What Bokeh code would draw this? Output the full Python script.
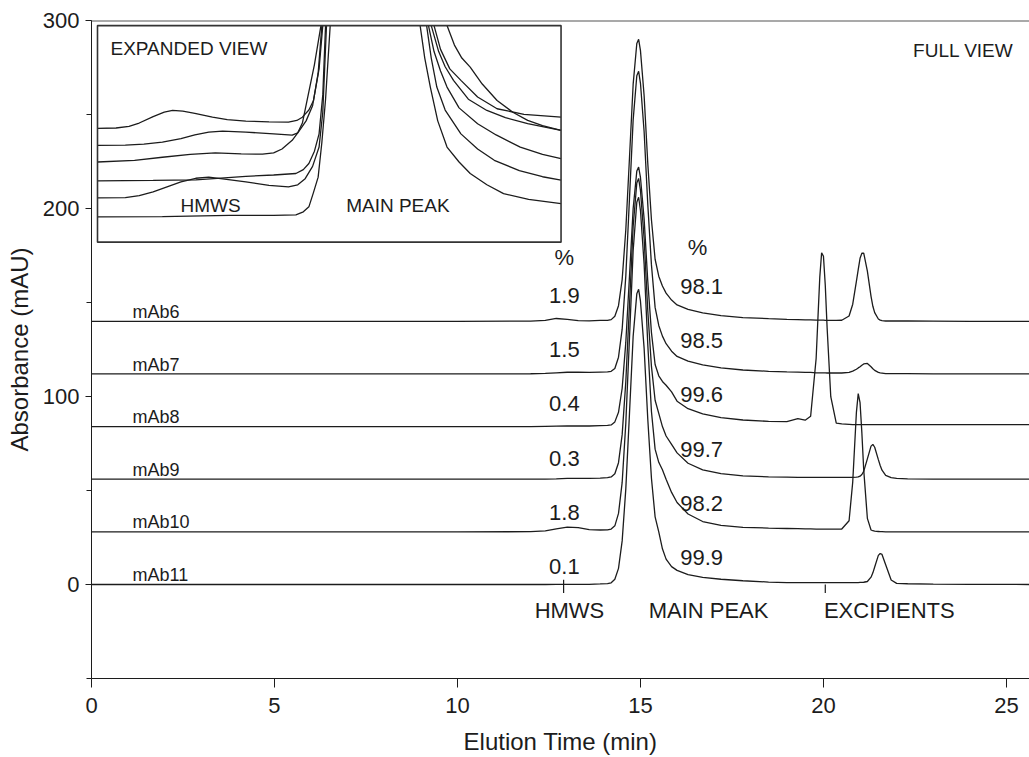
import math
from bokeh.plotting import figure
from bokeh.models import Range1d, SingleIntervalTicker, Span, ColumnDataSource
from bokeh.core.properties import value
from bokeh.embed import file_html
from bokeh.resources import INLINE

NAN = float("nan")

# ---------------- data ----------------
time_min = [0, 5, 10, 12.0, 12.4, 12.7, 13.0, 13.3, 13.6, 13.9, 14.1, 14.2, 14.3, 14.4, 14.5,
            14.6, 14.7, 14.8, 14.9, 14.95, 15.0, 15.1, 15.2, 15.3, 15.4, 15.5, 15.6, 15.7, 15.85,
            16.0, 16.3, 16.7, 17.2, 17.8, 18.5, 19.0, 19.3, 19.5, 19.65, 19.8, 19.85, 19.9, 19.95,
            20.0, 20.05, 20.1, 20.2, 20.35, 20.5, 20.7, 20.8, 20.9, 20.95, 21.0, 21.05, 21.1, 21.2,
            21.3, 21.35, 21.4, 21.5, 21.55, 21.6, 21.7, 21.85, 22.0, 22.3, 23.0, 24.0, 25.7]

sample_names = ["mAb6", "mAb7", "mAb8", "mAb9", "mAb10", "mAb11"]
trace_offset = [140, 112, 84, 56, 28, 0]

signal_mAb6 = [0, 0, 0, 0.1, 0.5, 1.5, 1.0, 0.4, 0.2, 0.5, 0.5, 0.9, 2.7, 8.3, 22.2, 48.8, 87, 126,
               147.8, 150, 144, 120, 84, 54, 33, 24, 18.8, 15, 11.3, 8.7, 6.3, 4.5, 3.0, 2.0, 1.4,
               1.05, 0.9, 0.75, 0.75,
               0.6, 0.6, 0.6, 0.6, 0.6, 0.5, 0.45, 0.45, 0.45, 0.55,
               2.8, 9.1, 21.2, 27.5, 33.5, 36.2, 36.3, 26.7, 13.3, 8.0,
               4.6, 1.2, 0.6, 0.4, 0.15, 0.15, 0.15, 0.15, 0.08, 0, 0]
signal_mAb7 = [0, 0, 0, 0.1, 0.3, 0.6, 0.9, 1.0, 0.8, 1.0, 1.1, 1.4, 2.9, 8.9, 23.8, 52.3, 93.4, 135,
               158.6, 161, 154.6, 128.8, 90.2, 58, 35.4, 25.8, 20.1, 16.1, 12.1, 9.3, 6.8, 4.8, 3.2,
               2.1, 1.4, 1.1, 1.0, 0.8, 0.8,
               0.6, 0.6, 0.6, 0.6, 0.6, 0.55, 0.5, 0.5, 0.5, 0.5,
               0.8, 1.5, 2.5, 3.2, 3.8, 4.6, 5.3, 5.6, 3.8, 2.8,
               1.9, 0.85, 0.6, 0.45, 0.15, 0.15, 0.15, 0.15, 0.08, 0, 0]
signal_mAb8 = [0, 0, 0, 0, 0.1, 0.2, 0.3, 0.3, 0.3, 0.5, 0.6, 0.9, 2.5, 7.6, 20.4, 44.9, 80, 115.9,
               135.9, 138, 132.5, 110.4, 77.3, 50, 33, 27, 24, 22, 18.5, 13.5, 9.5, 6.8, 4.8, 3.5,
               2.8, 2.6, 4.2, 3.4, 5.5,
               36.2, 58, 79.6, 92.5, 90.6, 75, 52.6, 15.9, 1.8, 1.4, 1.2,
               1.0, 1.0, 1.0, 1.0, 1.0, 1.0, 1.0, 1.0, 1.0, 1.0,
               1.0, 1.0, 1.0, 1.0, 1.0, 1.0, 1.0, 1.0, 1.0, 1.0]
signal_mAb9 = [0, 0, 0, 0, 0.1, 0.2, 0.4, 0.4, 0.4, 0.6, 0.8, 1.2, 2.9, 8.8, 23.7, 52, 92.8, 134.4,
               157.6, 160, 153.6, 128, 89.6, 60, 42, 35, 28, 23, 18.5, 14, 8.5, 5, 3, 1.8, 1.3,
               1.1, 1.0, 1.0, 1.0,
               1.0, 1.0, 1.0, 1.0, 1.0, 1.0, 1.0, 1.0, 1.0, 1.0, 1.0, 1.0,
               1.1, 1.2, 1.6, 2.5, 4.2, 10.8, 17.6, 18.5, 17, 10.4, 7.3, 4.8, 2.0, 0.8, 0.4, 0.2,
               0.1, 0, 0]
signal_mAb10 = [0, 0, 0, 0.1, 0.5, 1.6, 2.5, 2.2, 1.2, 1.0, 1.1, 1.5, 3.2, 9.8, 26.3, 57.9, 103.2,
                149.5, 175.3, 178, 170.9, 142.4, 99.7, 64, 44, 37, 33, 28, 21, 15.6, 9.5, 5.5, 3.5,
                2.4, 2.0, 1.8, 1.7, 1.6, 1.6,
                1.5, 1.5, 1.5, 1.5, 1.5, 1.5, 1.5, 1.5, 1.5, 1.5,
                5.9, 26.5, 63.5, 73.5, 68.7, 52.5, 33, 7.2, 1.0, 0.6,
                0.4, 0.2, 0.1, 0.1, 0, 0, 0, 0, 0, 0, 0]
signal_mAb11 = [0, 0, 0, 0, 0, 0.05, 0.1, 0.1, 0.1, 0.3, 0.5, 0.9, 2.8, 8.6, 23.2, 51, 91, 131.9,
                154.6, 157, 150.7, 125.6, 87.9, 56.5, 36, 28, 19, 13.5, 9.5, 7.5, 5.2, 3.8, 2.8,
                2.0, 1.3, 1.0, 1.0, 1.0, 1.0,
                1.0, 1.0, 1.0, 1.0, 1.0, 1.0, 1.0, 1.0, 1.0, 1.0, 1.0, 1.0, 1.0,
                1.0, 1.1, 1.15, 1.2, 1.6, 3.9, 6.2, 9.3, 15.5, 16.5, 16.0, 10.5, 2.4, 0.6, 0.4,
                0.2, 0.1, 0]

hmws_percent = ["1.9", "1.5", "0.4", "0.3", "1.8", "0.1"]
main_percent = ["98.1", "98.5", "99.6", "99.7", "98.2", "99.9"]
region_names = ["HMWS", "MAIN PEAK", "EXCIPIENTS"]
region_center = [13.06, 16.86, 21.8]
region_boundary = [12.9, 20.05]

# expanded view (inset) traces: time (min) and expanded signal units, NaN = off-scale gap
inset_t_mAb6 = [11.9, 12.1, 12.24, 12.35, 12.5, 12.62, 12.71, 12.82, 12.95, 13.14, 13.3, 13.5,
                13.75, 13.96, 14.05, 14.11, 14.18, 14.23, 14.29, 14.33, NAN,
                15.53, 15.6, 15.7, 15.82, 16.0, 16.21, 16.5, 16.9]
inset_y_mAb6 = [5.25, 5.27, 5.35, 5.5, 5.8, 6.0, 6.08, 6.05, 5.95, 5.77, 5.66, 5.59,
                5.55, 5.54, 5.62, 5.77, 6.1, 6.54, 8.0, 10.0, NAN,
                10.0, 8.9, 8.0, 7.47, 6.7, 6.16, 5.9, 5.77]
inset_t_mAb7 = [11.9, 12.2, 12.4, 12.6, 12.8, 12.95, 13.1, 13.25, 13.5, 13.8, 14.0, 14.06, 14.11,
                14.16, 14.24, 14.31, NAN,
                15.5, 15.58, 15.65, 15.74, 15.9, 16.1, 16.3, 16.54, 16.9]
inset_y_mAb7 = [4.47, 4.48, 4.53, 4.62, 4.78, 4.95, 5.08, 5.13, 5.08, 5.0, 4.94, 5.05, 5.5,
                6.54, 8.2, 10.0, NAN,
                10.0, 8.8, 8.1, 7.47, 6.6, 6.08, 5.75, 5.47, 5.16]
inset_t_mAb8 = [11.9, 12.3, 12.6, 12.9, 13.17, 13.45, 13.68, 13.8, 13.89, 14.0, 14.07, 14.15, 14.22,
                14.28, 14.32, NAN,
                15.67, 15.75, 15.83, 15.92, 16.05, 16.21, 16.38, 16.54, 16.7, 16.9]
inset_y_mAb8 = [3.70, 3.78, 3.92, 4.05, 4.12, 4.08, 4.06, 4.12, 4.3, 4.7, 5.1, 5.6, 6.3,
                7.8, 10.0, NAN,
                10.0, 9.1, 8.5, 8.08, 7.3, 6.54, 6.0, 5.62, 5.38, 5.16]
inset_t_mAb9 = [11.9, 12.5, 12.96, 13.5, 13.8, 14.04, 14.12, 14.18, 14.24, 14.29, 14.33, 14.36, NAN,
                15.47, 15.53, 15.6, 15.67, 15.8, 16.0, 16.2, 16.46, 16.7, 16.9]
inset_y_mAb9 = [2.83, 2.85, 2.88, 3.04, 3.1, 3.17, 3.35, 3.63, 4.2, 5.0, 6.8, 10.0, NAN,
                10.0, 8.8, 7.9, 7.16, 6.2, 5.47, 4.95, 4.39, 4.05, 3.86]
inset_t_mAb10 = [11.9, 12.2, 12.35, 12.5, 12.65, 12.8, 12.96, 13.1, 13.25, 13.5, 13.75, 13.96,
                 14.06, 14.14, 14.22, 14.29, 14.33, 14.37, NAN,
                 15.45, 15.5, 15.56, 15.65, 15.82, 16.0, 16.18, 16.45, 16.7, 16.9]
inset_y_mAb10 = [2.04, 2.06, 2.15, 2.32, 2.55, 2.78, 2.95, 3.0, 2.92, 2.78, 2.62, 2.55,
                 2.65, 2.93, 3.5, 4.39, 6.0, 10.0, NAN,
                 10.0, 8.5, 7.16, 6.1, 5.0, 4.3, 3.78, 3.3, 3.02, 2.86]
inset_t_mAb11 = [11.9, 12.6, 13.32, 13.8, 14.04, 14.12, 14.18, 14.23, 14.28, 14.32, 14.36, 14.41, NAN,
                 15.38, 15.43, 15.49, 15.57, 15.67, 15.8, 15.92, 16.1, 16.28, 16.55, 16.9]
inset_y_mAb11 = [1.17, 1.18, 1.24, 1.24, 1.26, 1.4, 1.63, 2.3, 3.0, 4.6, 6.6, 10.0, NAN,
                 10.0, 8.5, 7.16, 5.6, 4.39, 3.7, 3.17, 2.65, 2.24, 1.98, 1.78]

# ---------------- layout / style ----------------
FONT = "Liberation Sans"
INK = "#1c1c1c"
X0, X1 = 0.0, 25.63
Y0, Y1 = -50.0, 300.0
INSET_BOX = (0.164, 12.83, 182.1, 297.3)   # left, right, bottom, top in main data units
INSET_WIN = (11.9, 16.9, 0.0, 10.0)        # inset's own data window

signals = [signal_mAb6, signal_mAb7, signal_mAb8, signal_mAb9, signal_mAb10, signal_mAb11]
inset_ts = [inset_t_mAb6, inset_t_mAb7, inset_t_mAb8, inset_t_mAb9, inset_t_mAb10, inset_t_mAb11]
inset_ys = [inset_y_mAb6, inset_y_mAb7, inset_y_mAb8, inset_y_mAb9, inset_y_mAb10, inset_y_mAb11]
for s in signals:
    assert len(s) == len(time_min), len(s)
for a, b in zip(inset_ts, inset_ys):
    assert len(a) == len(b)

p = figure(width=1029, height=757, x_range=Range1d(X0, X1), y_range=Range1d(Y0, Y1),
           output_backend="svg", toolbar_location=None,
           min_border_left=91, min_border_right=0, min_border_top=20, min_border_bottom=78)
p.outline_line_color = None
p.xgrid.grid_line_color = None
p.ygrid.grid_line_color = None
p.background_fill_color = "white"
p.border_fill_color = "white"

# axes
p.xaxis.ticker = SingleIntervalTicker(interval=5, num_minor_ticks=0)
p.yaxis.ticker = SingleIntervalTicker(interval=100, num_minor_ticks=2)
for ax in (p.xaxis[0], p.yaxis[0]):
    ax.axis_line_color = INK
    ax.major_tick_line_color = INK
    ax.minor_tick_line_color = INK
    ax.major_tick_in = 0
    ax.minor_tick_in = 0
    ax.major_label_text_font = FONT
    ax.major_label_text_font_size = "22px"
    ax.major_label_text_color = INK
    ax.axis_label_text_font = FONT
    ax.axis_label_text_font_size = "24px"
    ax.axis_label_text_font_style = "normal"
    ax.axis_label_text_color = INK
p.xaxis.major_tick_out = 9
p.xaxis.minor_tick_line_color = None
p.xaxis.major_label_standoff = 10
p.xaxis.axis_label_standoff = 12
p.xaxis.axis_label = "Elution Time (min)"
p.yaxis.major_tick_out = 6
p.yaxis.minor_tick_out = 5
p.yaxis.major_label_standoff = 6
p.yaxis.axis_label_standoff = 7
p.yaxis.axis_label = "Absorbance (mAU)"

# top frame line
p.add_layout(Span(location=Y1, dimension="width", line_color="#555555", line_width=2))

# main traces
for off, sig in zip(trace_offset, signals):
    p.line(time_min, [off + v for v in sig], line_color=INK, line_width=1.3)

# region boundary ticks on the bottom trace
p.segment(x0=region_boundary, y0=[2.5, 0.0], x1=region_boundary, y1=[-4.5, -4.5],
          line_color=INK, line_width=1.2)


def add_text(xs, ys, texts, size, align="center", **kw):
    src = ColumnDataSource(dict(x=xs, y=ys, t=texts))
    p.text(x="x", y="y", text="t", source=src, text_font=value(FONT),
           text_font_size=value(size), text_align=align, text_baseline="alphabetic",
           text_color=INK, **kw)


# sample names
add_text([1.12] * len(sample_names), [o + 5.0 for o in trace_offset], sample_names, "18px", "left")
# percentages
add_text([12.92] * 6, [o * 1.03 + 9.5 for o in trace_offset], hmws_percent, "22px")
add_text([16.67] * 6, [o * 1.03 + 14.3 for o in trace_offset], main_percent, "22px")
add_text([12.92, 16.56], [174.2, 179.5], ["%", "%"], "22px")
# region names
add_text(region_center, [-13.8] * 3, region_names, "22px")
# full view label
add_text([25.19], [284.0], ["FULL VIEW"], "19px", "right")

# ---------------- inset (expanded view) ----------------
bx0, bx1, by0, by1 = INSET_BOX
wx0, wx1, wy0, wy1 = INSET_WIN
kx = (wx1 - wx0) / (bx1 - bx0)
ky = (wy1 - wy0) / (by1 - by0)
p.extra_x_ranges = {"inset_x": Range1d(wx0 - (bx0 - X0) * kx, wx1 + (X1 - bx1) * kx)}
p.extra_y_ranges = {"inset_y": Range1d(wy0 - (by0 - Y0) * ky, wy1 + (Y1 - by1) * ky)}
IR = dict(x_range_name="inset_x", y_range_name="inset_y")

for t, y in zip(inset_ts, inset_ys):
    p.line(t, y, line_color=INK, line_width=1.3, **IR)
p.quad(left=[wx0], right=[wx1], bottom=[wy0], top=[wy1], fill_color=None,
       line_color="#333333", line_width=1.6, **IR)
add_text([12.04], [8.95], ["EXPANDED VIEW"], "19px", "left", **IR)
add_text([13.12, 15.14], [1.67, 1.71], ["HMWS", "MAIN PEAK"], "19px", "center", **IR)

open("out.html", "w").write(file_html(p, INLINE))
